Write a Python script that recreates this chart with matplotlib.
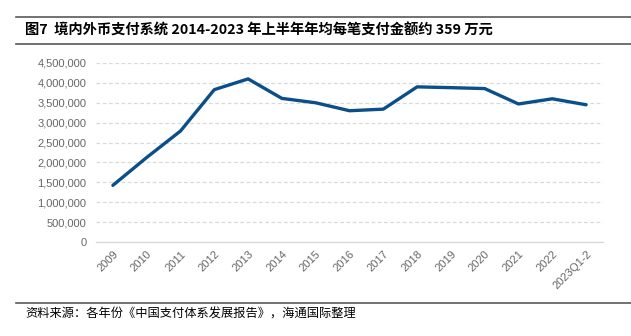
import matplotlib
matplotlib.use('Agg')
import matplotlib.pyplot as plt
from matplotlib.lines import Line2D
from matplotlib.ticker import FuncFormatter

plt.rcParams['font.family'] = ['Noto Sans CJK SC', 'DejaVu Sans']

years = ['2009', '2010', '2011', '2012', '2013', '2014', '2015', '2016',
         '2017', '2018', '2019', '2020', '2021', '2022', '2023Q1-2']
amount = [1425000, 2125000, 2790000, 3830000, 4100000, 3610000, 3500000, 3300000,
          3340000, 3900000, 3880000, 3857000, 3470000, 3600000, 3450000]

W, H = 631, 336
fig = plt.figure(figsize=(W / 100, H / 100), dpi=100)
ax = fig.add_axes([96 / W, 1 - 242 / H, (603 - 96) / W, (242 - 63) / H])

x = range(len(years))
ax.plot(x, amount, color='#0B4F8A', lw=2.4, solid_capstyle='round', zorder=3)

ax.set_ylim(0, 4500000)
ax.set_xlim(-0.5, len(years) - 0.5)
ax.set_yticks(range(0, 4500001, 500000))
ax.yaxis.set_major_formatter(FuncFormatter(lambda v, p: f'{int(v):,}'))
ax.set_xticks(list(x))
ax.set_xticklabels(years, rotation=45, ha='right', rotation_mode='anchor')

for lab in ax.get_xticklabels() + ax.get_yticklabels():
    lab.set_fontfamily('Liberation Sans')
    lab.set_fontsize(8)
    lab.set_color('#666666')

ax.tick_params(length=0, pad=7)
ax.tick_params(axis='x', pad=5)
ax.grid(axis='y', color='#D9D9D9', ls=(0, (3, 2)), lw=0.9)
ax.set_axisbelow(True)
for s in ['top', 'right', 'left']:
    ax.spines[s].set_visible(False)
ax.spines['bottom'].set_color('#D9D9D9')
ax.spines['bottom'].set_linewidth(1.0)

# header / footer rules
for yy in [17, 44, 303]:
    fig.add_artist(Line2D([16 / W, 1], [1 - yy / H] * 2, transform=fig.transFigure,
                          color='#595959', lw=1.2))

fig.text(25 / W, 1 - 31 / H, '图7  境内外币支付系统 2014-2023 年上半年年均每笔支付金额约 359 万元',
         fontsize=10.3, fontweight='bold', va='center', ha='left', color='black')
fig.text(25 / W, 1 - 314 / H, '资料来源：各年份《中国支付体系发展报告》，海通国际整理',
         fontsize=8.8, va='center', ha='left', color='black')

fig.savefig('out.png', dpi=100)
